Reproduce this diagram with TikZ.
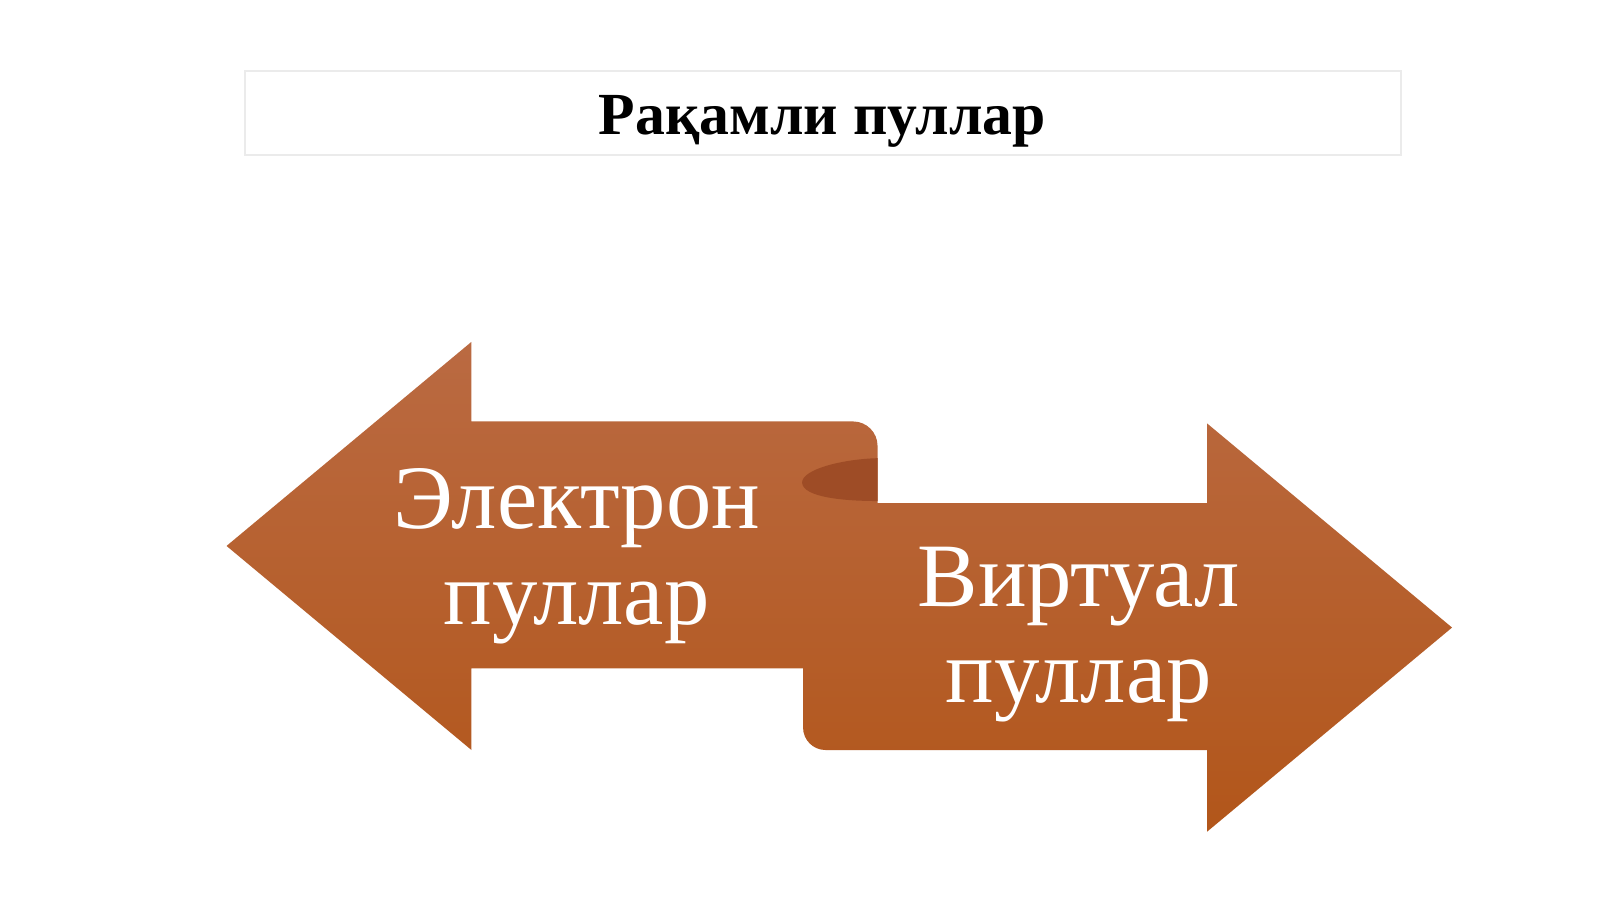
\documentclass[tikz,border=0pt]{standalone}
\usepackage{fontspec}
\setmainfont{Liberation Serif}
\definecolor{arrowtop}{RGB}{186,106,66}
\definecolor{arrowbot}{RGB}{178,86,26}
\definecolor{curl}{RGB}{158,76,38}
\tikzset{
  arrowpart/.style={top color=arrowtop, bottom color=arrowbot, draw=none},
  arrowtext/.style={text=white, font=\fontsize{25.8pt}{27.3pt}\selectfont, align=center},
}
\begin{document}
\begin{tikzpicture}[x=0.010204cm, y=-0.010204cm]
\useasboundingbox (0,0) rectangle (1568,881);
% title
  \draw[black!8, line width=0.6pt] (240,70) rectangle (1373,152);
  \node[font=\bfseries\fontsize{17pt}{19pt}\selectfont] (title) at (806,119) {Рақамли пуллар};
% double arrow
  \path[arrowpart] (222,535) -- (462,335) -- (462,413) -- (836,413)
    arc[start angle=-90, end angle=0, radius=24] -- (860,493) -- (1183,493)
    -- (1183,415) -- (1423,615) -- (1183,815) -- (1183,735) -- (809,735)
    arc[start angle=90, end angle=180, radius=22] -- (787,655) -- (462,655)
    -- (462,735) -- cycle;
% curl
  \fill[curl] (860,449) .. controls (825,450) and (786,460) .. (786,473)
    .. controls (787,487) and (825,491) .. (860,491) -- cycle;
% labels
  \node[arrowtext] (elektron) at (565,545) {Электрон\\пуллар};
  \node[arrowtext] (virtual) at (1057,622) {Виртуал\\пуллар};
\end{tikzpicture}
\end{document}
